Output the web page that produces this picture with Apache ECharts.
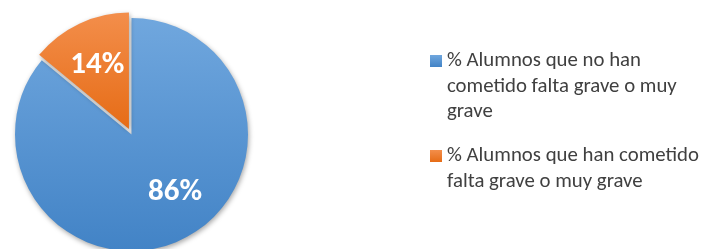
<!DOCTYPE html>
<html>
<head>
<meta charset="utf-8">
<script src="https://cdn.jsdelivr.net/npm/echarts@6/dist/echarts.min.js"></script>
<style>html,body{margin:0;padding:0;background:#fff}#c{width:709px;height:249px}</style>
</head>
<body>
<div id="c"></div>
<script>
const categories = ['% Alumnos que no han cometido falta grave o muy grave', '% Alumnos que han cometido falta grave o muy grave'];
const legendLines = [
  ['% Alumnos que no han', 'cometido falta grave o muy', 'grave'],
  ['% Alumnos que han cometido', 'falta grave o muy grave']
];
const values = [86, 14];

const chart = echarts.init(document.getElementById('c'), null, {renderer: 'canvas'});
const FONT = 'Carlito, "Liberation Sans", Arial, sans-serif';
const blue = new echarts.graphic.LinearGradient(0, 0, 0, 1, [{offset: 0, color: '#70a7de'}, {offset: 1, color: '#4283c6'}]);
const orange = new echarts.graphic.LinearGradient(0, 0, 0, 1, [{offset: 0, color: '#f38e4b'}, {offset: 1, color: '#e66c16'}]);
const colors = [blue, orange];
const labelShift = [[17.5, 2], [-5.5, -8]];
const LH = 25.5;

function mkLegend(i, iconCenterY) {
  const lines = legendLines[i];
  const padded = new Array(lines.length - 1).fill('').concat(lines);
  const total = padded.length * LH;
  return {
    data: [categories[i]],
    orient: 'vertical',
    left: 430,
    top: iconCenterY - total / 2,
    padding: 0,
    icon: 'rect',
    itemWidth: 12,
    itemHeight: 12,
    selectedMode: false,
    formatter: () => padded.join('\n'),
    textStyle: {
      fontFamily: FONT,
      fontSize: 20.8,
      color: '#404040',
      lineHeight: LH
    }
  };
}

chart.setOption({
  animation: false,
  legend: [mkLegend(0, 61), mkLegend(1, 156)],
  series: [{
    type: 'pie',
    center: [131.5, 134.5],
    radius: 116.5,
    startAngle: 90,
    clockwise: true,
    selectedMode: 'single',
    selectedOffset: 6,
    avoidLabelOverlap: false,
    label: {
      show: true,
      position: 'inside',
      formatter: '{c}%',
      color: '#fff',
      fontFamily: FONT,
      fontWeight: 'bold',
      fontSize: 31
    },
    labelLayout: (p) => ({dx: labelShift[p.dataIndex][0], dy: labelShift[p.dataIndex][1]}),
    labelLine: {show: false},
    itemStyle: {
      shadowBlur: 5,
      shadowColor: 'rgba(0,0,0,0.35)',
      shadowOffsetX: 1,
      shadowOffsetY: 2
    },
    emphasis: {disabled: true},
    data: categories.map((name, i) => ({
      name: name,
      value: values[i],
      selected: i === 1,
      itemStyle: {color: colors[i]}
    }))
  }]
});
</script>
</body>
</html>
